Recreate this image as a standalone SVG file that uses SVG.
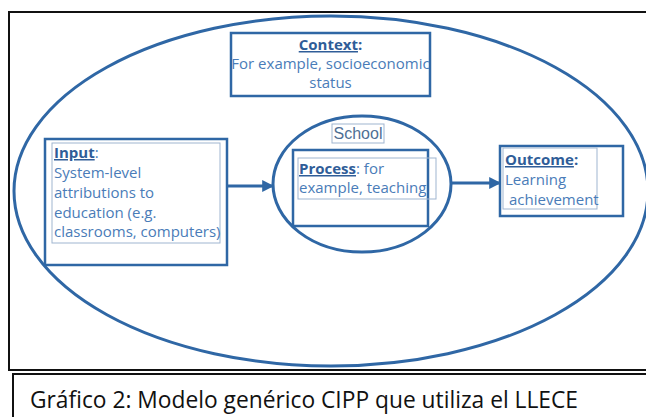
<svg xmlns="http://www.w3.org/2000/svg" width="646" height="417" viewBox="0 0 646 417">
<style>
.frame{fill:none;stroke:#111;stroke-width:2}
.ell{fill:none;stroke:#2f67a5;stroke-width:3}
.thick{fill:#fff;stroke:#2f67a5;stroke-width:2.5}
.thin{fill:none;stroke:#9fb5d0;stroke-width:1}
.t{font-family:"Open Sans","Noto Sans","Liberation Sans",sans-serif;font-size:15px;fill:#4a7cb8}
.h{font-weight:bold;fill:#2f5d98;text-decoration:underline}
.conn{stroke:#2f67a5;stroke-width:3;fill:none}
.cap{font-family:"Open Sans","Noto Sans","Liberation Sans",sans-serif;font-size:23px;fill:#111}
</style>
<defs>
<marker id="ah" viewBox="0 0 10 10" refX="9" refY="5" markerWidth="4" markerHeight="4" orient="auto" markerUnits="strokeWidth">
<path d="M0,0 L10,5 L0,10 z" fill="#2f67a5"/>
</marker>
</defs>
<rect width="646" height="417" fill="#fff"/>
<rect class="frame" x="9" y="12" width="645" height="358"/>
<rect class="frame" x="13" y="374" width="645" height="50"/>
<g id="context-ellipse">
<ellipse class="ell" cx="331" cy="191" rx="317" ry="175"/>
</g>
<g id="context">
<rect class="thick" x="231" y="33" width="199" height="63"/>
<text class="t" x="330.5" y="50" text-anchor="middle"><tspan class="h">Context</tspan><tspan font-weight="bold" fill="#2f5d98">:</tspan></text>
<text class="t" x="330.5" y="69" text-anchor="middle">For example, socioeconomic</text>
<text class="t" x="330.5" y="88" text-anchor="middle">status</text>
</g>
<g id="school">
<ellipse class="ell" cx="362" cy="184" rx="89" ry="68"/>
<rect class="thin" x="332" y="124" width="52" height="19"/>
<text x="358" y="139" text-anchor="middle" font-family="Liberation Sans,Arial,sans-serif" font-size="16" fill="#4f6f94">School</text>
</g>
<g id="process">
<rect class="thick" x="293" y="150" width="135" height="76"/>
<rect class="thin" x="298" y="158" width="138" height="41"/>
<text class="t" x="299" y="174"><tspan class="h">Process</tspan><tspan>: for</tspan></text>
<text class="t" x="299" y="193">example, teaching</text>
</g>
<g id="input">
<rect class="thick" x="45" y="139" width="182" height="126"/>
<rect class="thin" x="52" y="143" width="168" height="100"/>
<text class="t" x="54" y="158"><tspan class="h">Input</tspan><tspan>:</tspan></text>
<text class="t" x="54" y="178">System-level</text>
<text class="t" x="54" y="198">attributions to</text>
<text class="t" x="54" y="218">education (e.g.</text>
<text class="t" x="54" y="237">classrooms, computers)</text>
</g>
<g id="outcome">
<rect class="thick" x="500" y="146" width="123" height="70"/>
<rect class="thin" x="503" y="148" width="94" height="61"/>
<text class="t" x="505" y="165"><tspan class="h">Outcome</tspan><tspan font-weight="bold" fill="#2f5d98">:</tspan></text>
<text class="t" x="505" y="185">Learning</text>
<text class="t" x="509" y="205">achievement</text>
</g>
<g id="connectors">
<line class="conn" x1="227" y1="186" x2="273" y2="186" marker-end="url(#ah)"/>
<line class="conn" x1="451" y1="183" x2="500" y2="183" marker-end="url(#ah)"/>
</g>
<text class="cap" x="30" y="408" textLength="548" lengthAdjust="spacingAndGlyphs">Gráfico 2: Modelo genérico CIPP que utiliza el LLECE</text>
</svg>
